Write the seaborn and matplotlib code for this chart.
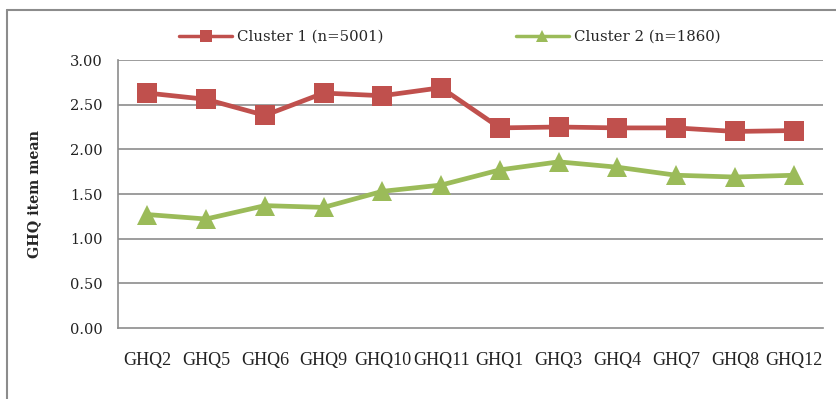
import matplotlib
matplotlib.use("Agg")
import matplotlib.pyplot as plt
from matplotlib.lines import Line2D
import seaborn as sns
import pandas as pd

categories = ["GHQ2", "GHQ5", "GHQ6", "GHQ9", "GHQ10", "GHQ11",
              "GHQ1", "GHQ3", "GHQ4", "GHQ7", "GHQ8", "GHQ12"]
cluster1 = [2.63, 2.56, 2.38, 2.63, 2.60, 2.69, 2.24, 2.25, 2.24, 2.24, 2.20, 2.21]
cluster2 = [1.27, 1.22, 1.37, 1.35, 1.53, 1.60, 1.77, 1.86, 1.80, 1.71, 1.69, 1.71]
series_names = ["Cluster 1 (n=5001)", "Cluster 2 (n=1860)"]
yticks = [0.0, 0.5, 1.0, 1.5, 2.0, 2.5, 3.0]

df = pd.DataFrame({
    "item": categories * 2,
    "mean": cluster1 + cluster2,
    "series": [series_names[0]] * len(categories) + [series_names[1]] * len(categories),
})

sns.set_style("white")
plt.rcParams["font.family"] = ["DejaVu Serif"]

colors = {series_names[0]: "#C0504D", series_names[1]: "#9BBB59"}
markers = {series_names[0]: "s", series_names[1]: "^"}

fig = plt.figure(figsize=(8.36, 3.99), dpi=100)
ax = fig.add_axes([118 / 836, 1 - 328 / 399, (823 - 118) / 836, (328 - 60) / 399])

df["x"] = df["item"].map({c: i for i, c in enumerate(categories)})
sns.lineplot(data=df, x="x", y="mean", hue="series", style="series",
             palette=colors, markers=markers, dashes=False, sort=False,
             linewidth=3.4, markersize=14, markeredgewidth=0, ax=ax, legend=False)

ax.set_xlim(-0.5, len(categories) - 0.5)
ax.set_ylim(0, 3.0)
ax.set_yticks(yticks)
ax.set_yticklabels([f"{v:.2f}" for v in yticks], fontsize=10.5, color="#222222")
ax.set_xticks(range(len(categories)))
ax.set_xticklabels(categories, fontsize=13, family="Liberation Serif", color="#222222")
ax.set_xticks([i - 0.5 for i in range(len(categories) + 1)], minor=True)
ax.tick_params(axis="x", which="major", length=0, pad=17)
ax.tick_params(axis="x", which="minor", length=4, width=1, color="#8c8c8c", direction="out")
ax.tick_params(axis="y", which="major", length=5, width=1, color="#8c8c8c", direction="out", pad=6)
ax.set_xlabel("")
ax.set_ylabel("GHQ item mean", fontsize=10.3, fontweight="bold", labelpad=21)

for v in yticks[1:]:
    ax.axhline(v, color="#8c8c8c", linewidth=1.2, zorder=0)
for s in ["top", "right"]:
    ax.spines[s].set_visible(False)
for s in ["left", "bottom"]:
    ax.spines[s].set_color("#8c8c8c")
    ax.spines[s].set_linewidth(1.2)

handles = [Line2D([], [], color=colors[n], marker=markers[n], linewidth=2.5,
                  markersize=8, markeredgewidth=0) for n in series_names]
fig.legend(handles, series_names, loc="center", bbox_to_anchor=(450 / 836, 1 - 37 / 399),
           ncol=2, frameon=False, fontsize=10.7, columnspacing=8.9, handlelength=3.55,
           handletextpad=0.35, borderpad=0, borderaxespad=0)

# chart-area frame (open at right and bottom in the reference crop)
fig.add_artist(Line2D([7 / 836, 7 / 836], [0, 1 - 10 / 399], transform=fig.transFigure,
                      color="#8c8c8c", linewidth=1.5))
fig.add_artist(Line2D([7 / 836, 1], [1 - 10 / 399, 1 - 10 / 399], transform=fig.transFigure,
                      color="#8c8c8c", linewidth=1.5))

fig.savefig("out.png", dpi=100)
